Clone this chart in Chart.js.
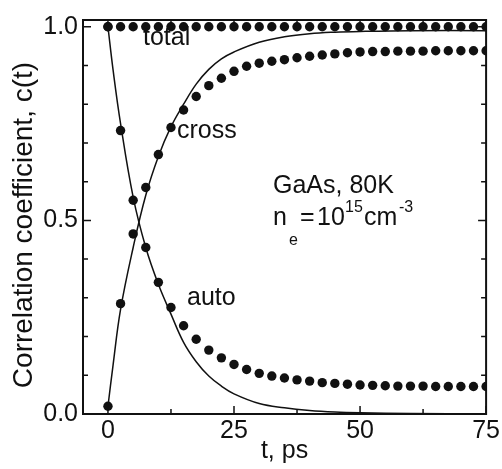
<!DOCTYPE html>
<html lang="en">
<head>
<meta charset="UTF-8" />
<title>Correlation coefficient, GaAs 80K</title>
<script src="https://cdn.jsdelivr.net/npm/chart.js"></script>
<style>
  html, body { margin: 0; padding: 0; background: #fff; }
  #corrChart { display: block; }
</style>
</head>
<body>
<canvas id="corrChart" width="502" height="469"></canvas>
<script>
// measured points (t in ps)
const tPoints = [0, 2.5, 5, 7.5, 10, 12.5, 15, 17.5, 20, 22.5, 25, 27.5, 30, 32.5, 35, 37.5,
  40, 42.5, 45, 47.5, 50, 52.5, 55, 57.5, 60, 62.5, 65, 67.5, 70, 72.5, 75];
const totalValues = [1.0, 1.0, 1.0, 1.0, 1.0, 1.0, 1.0, 1.0, 1.0, 1.0, 1.0, 1.0, 1.0, 1.0, 1.0, 1.0,
  1.0, 1.0, 1.0, 1.0, 1.0, 1.0, 1.0, 1.0, 1.0, 1.0, 1.0, 1.0, 1.0, 1.0, 1.0];
const crossValues = [0.02, 0.285, 0.465, 0.585, 0.67, 0.74, 0.785, 0.82, 0.848, 0.867, 0.885, 0.898,
  0.906, 0.911, 0.915, 0.92, 0.924, 0.927, 0.93, 0.933, 0.935, 0.936, 0.936, 0.937, 0.937, 0.937,
  0.938, 0.938, 0.938, 0.938, 0.938];
const autoValues = [1.0, 0.732, 0.552, 0.43, 0.34, 0.275, 0.228, 0.193, 0.165, 0.145, 0.128, 0.115,
  0.105, 0.098, 0.093, 0.088, 0.085, 0.081, 0.079, 0.077, 0.075, 0.074, 0.073, 0.072, 0.072, 0.072,
  0.071, 0.071, 0.071, 0.071, 0.071];

// solid curves
const tFit = [0, 1, 2.5, 5, 7.5, 10, 12.5, 15, 17.5, 20, 22.5, 25, 30, 35, 40, 45, 50, 60, 75];
const crossFit = [0.02, 0.125, 0.27, 0.43, 0.565, 0.665, 0.742, 0.80, 0.852, 0.89, 0.917, 0.935,
  0.96, 0.974, 0.982, 0.986, 0.988, 0.99, 0.99];
const autoFit = [1.0, 0.89, 0.75, 0.56, 0.43, 0.335, 0.258, 0.185, 0.135, 0.098, 0.072, 0.052,
  0.027, 0.016, 0.009, 0.005, 0.003, 0.001, 0.0];

const xTicks = [0, 25, 50, 75];
const yTicks = [0, 0.5, 1.0];

const FONT = "'Liberation Sans', Arial, Helvetica, sans-serif";

function pts(xs, ys) {
  return xs.map((x, i) => ({ x: x, y: ys[i] }));
}

function dots(xs, ys) {
  return {
    data: pts(xs, ys),
    showLine: false,
    pointRadius: 4.7,
    pointBackgroundColor: "#111",
    pointBorderWidth: 0,
    clip: 0,
  };
}

function curve(xs, ys) {
  return {
    data: pts(xs, ys),
    showLine: true,
    borderColor: "#111",
    borderWidth: 1.5,
    pointRadius: 0,
    tension: 0.4,
    clip: 0,
  };
}

// frame, inward ticks, in-plot labels, y title
const framePlugin = {
  id: "frame",
  afterDatasetsDraw(chart) {
    const { ctx, chartArea: a, scales } = chart;
    const xs = scales.x, ys = scales.y;
    ctx.save();
    ctx.strokeStyle = "#111";
    ctx.lineWidth = 1.5;
    // y ticks, left and right
    for (let v = 0; v <= 10; v++) {
      const y = ys.getPixelForValue(v / 10);
      const len = v % 5 === 0 ? 8 : 5;
      ctx.beginPath();
      ctx.moveTo(a.left, y); ctx.lineTo(a.left + len, y);
      ctx.moveTo(a.right, y); ctx.lineTo(a.right - len, y);
      ctx.stroke();
    }
    // x ticks, bottom and top
    for (let k = 0; k <= 6; k++) {
      const x = xs.getPixelForValue(k * 12.5);
      const len = k % 2 === 0 ? 8 : 5;
      ctx.beginPath();
      ctx.moveTo(x, a.bottom); ctx.lineTo(x, a.bottom - len);
      ctx.moveTo(x, a.top); ctx.lineTo(x, a.top + 6);
      ctx.stroke();
    }
    ctx.lineWidth = 2;
    ctx.strokeRect(a.left, a.top, a.right - a.left, a.bottom - a.top);

    ctx.fillStyle = "#111";
    ctx.textBaseline = "alphabetic";
    ctx.textAlign = "left";
    ctx.font = "25px " + FONT;
    ctx.fillText("total", 143, 45);
    ctx.fillText("cross", 177, 138);
    ctx.fillText("auto", 187, 305);
    ctx.fillText("GaAs, 80K", 273, 193);

    // n_e=10^15 cm^-3
    const big = "25px " + FONT, small = "16px " + FONT;
    ctx.font = big;
    ctx.fillText("n", 273, 225);
    ctx.fillText("=", 300, 225);
    ctx.fillText("10", 317, 225);
    ctx.fillText("cm", 364, 225);
    ctx.font = small;
    ctx.fillText("e", 289, 245);
    ctx.fillText("15", 345, 212);
    ctx.fillText("-3", 399, 212);

    // y axis title
    ctx.translate(24, 225);
    ctx.rotate(-Math.PI / 2);
    ctx.textAlign = "center";
    ctx.textBaseline = "middle";
    ctx.font = "28px " + FONT;
    ctx.fillText("Correlation coefficient, c(t)", 0, 0);
    ctx.restore();
  },
};

new Chart(document.getElementById("corrChart"), {
  type: "scatter",
  data: {
    datasets: [
      curve(tFit, crossFit),
      curve(tFit, autoFit),
      dots(tPoints, totalValues),
      dots(tPoints, crossValues),
      dots(tPoints, autoValues),
    ],
  },
  options: {
    responsive: false,
    animation: false,
    devicePixelRatio: 1,
    layout: { padding: { top: 8, right: 15, left: 0, bottom: 0 } },
    plugins: { legend: { display: false }, tooltip: { enabled: false } },
    scales: {
      x: {
        type: "linear",
        min: -4.95,
        max: 75,
        afterBuildTicks: (s) => { s.ticks = xTicks.map((v) => ({ value: v })); },
        afterFit: (s) => { s.height = 55; },
        grid: { display: false, drawTicks: false },
        border: { display: false },
        ticks: { color: "#111", padding: 2, font: { family: FONT, size: 25 } },
        title: {
          display: true,
          text: "t, ps",
          color: "#111",
          font: { family: FONT, size: 25 },
          padding: { top: 0, bottom: 3 },
        },
      },
      y: {
        type: "linear",
        min: 0,
        max: 1.0175,
        afterBuildTicks: (s) => { s.ticks = yTicks.map((v) => ({ value: v })); },
        afterFit: (s) => { s.width = 83; },
        grid: { display: false, drawTicks: false },
        border: { display: false },
        ticks: {
          color: "#111",
          padding: 5,
          font: { family: FONT, size: 25 },
          callback: (v) => Number(v).toFixed(1),
        },
      },
    },
  },
  plugins: [framePlugin],
});
</script>
</body>
</html>
